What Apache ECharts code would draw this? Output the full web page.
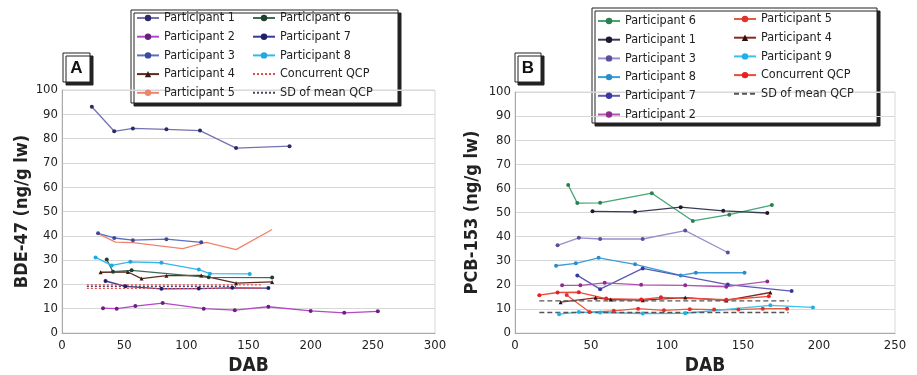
<!DOCTYPE html>
<html>
<head>
<meta charset="utf-8">
<script src="https://cdn.jsdelivr.net/npm/echarts@6/dist/echarts.min.js"></script>
<style>
  html, body { margin: 0; padding: 0; background: #fff; }
  #main { width: 917px; height: 375px; }
</style>
</head>
<body>
<div id="main"></div>
<script>
// panel A : BDE-47 (DAB, ng/g lw)
var a_p1 = [[24,93.1],[42,83.0],[57,84.2],[84,83.8],[111,83.3],[140,76.1],[183,76.9]];
var a_p2 = [[33,10.2],[44,10.0],[59,11.1],[81,12.3],[114,10.0],[139,9.4],[166,10.8],[200,9.1],[227,8.3],[254,8.9]];
var a_p3 = [[29,41],[42,39.1],[57,38.2],[84,38.6],[112,37.3]];
var a_p4 = [[31,25.0],[53,25.1],[64,22.4],[84,23.6],[112,23.7],[140,20.5],[169,21.0]];
var a_p5 = [[29,40.9],[43,37.4],[57,37.2],[97,34.7],[116,37.3],[140,34.3],[169,42.6]];
var a_p6 = [[36,30.2],[41,25.2],[56,25.8],[118,22.9],[169,22.8]];
var a_p7 = [[35,21.4],[51,19.2],[80,18.2],[110,18.3],[137,18.6],[166,18.5]];
var a_p8 = [[27,31.1],[40,27.8],[55,29.3],[80,28.9],[110,26.1],[119,24.4],[151,24.3]];
var a_qcp = [[20,18.4],[160,18.4]];
var a_qcp2 = [[20,19.8],[160,19.8]];
var a_sd = [[20,19.2],[140,19.2]];

// panel B : PCB-153
var b_p6 = [[35,61.4],[41,53.9],[56,54.0],[90,58.0],[117,46.5],[141,49.1],[169,53.1]];
var b_p1 = [[51,50.5],[79,50.3],[109,52.2],[137,50.7],[166,49.8]];
var b_p3 = [[28,36.4],[42,39.5],[56,39.0],[84,39.0],[112,42.5],[140,33.4]];
var b_p8 = [[27,27.9],[40,28.9],[55,31.2],[79,28.5],[109,23.9],[119,25.0],[151,25.0]];
var b_p7 = [[41,23.9],[56,18.2],[84,26.8],[140,20.1],[182,17.4]];
var b_p2 = [[31,19.8],[43,19.8],[59,20.8],[83,20.0],[112,19.8],[139,19.2],[166,21.4]];
var b_p5 = [[34,15.8],[49,8.7],[65,9.2],[81,10.1],[98,9.4],[115,9.9],[131,9.7],[147,9.7],[163,10.1],[179,10.1]];
var b_p4 = [[30,12.8],[53,14.6],[63,13.9],[84,13.6],[112,14.7],[139,13.5],[168,16.8]];
var b_p9 = [[29,7.8],[42,8.7],[56,8.5],[84,8.1],[112,8.2],[168,11.5],[196,10.6]];
var b_qcp = [[16,15.7],[28,16.8],[42,16.9],[60,14.3],[83,13.9],[96,14.8],[139,13.8],[167,15.2]];
var b_sd_hi = [[16,13.3],[180,13.3]];
var b_sd_lo = [[16,8.5],[180,8.5]];

var FONT = "'Liberation Sans Narrow','DejaVu Sans Condensed','Arial Narrow',sans-serif";

var myChart = echarts.init(document.getElementById('main'));

function line(name, data, color, mcolor, g, sym) {
    return {
        name: name, type: 'line', data: data,
        xAxisIndex: g, yAxisIndex: g,
        symbol: sym || 'circle', symbolSize: 4,
        lineStyle: { color: color, width: 1.3 },
        itemStyle: { color: mcolor || color },
        emphasis: { disabled: true },
        animation: false
    };
}
function flat(name, data, color, g, type) {
    return {
        name: name, type: 'line', data: data,
        xAxisIndex: g, yAxisIndex: g,
        symbol: 'none',
        lineStyle: { color: color, width: 1.3, type: type },
        itemStyle: { color: color },
        emphasis: { disabled: true },
        animation: false
    };
}

function xAx(g, max) {
    return {
        gridIndex: g, type: 'value', min: 0, max: max, interval: 50,
        name: 'DAB', nameLocation: 'middle', nameGap: 24,
        nameTextStyle: { fontFamily: FONT, fontWeight: 'bold', fontSize: 19, color: '#222' },
        axisLine: { lineStyle: { color: '#aaa' } },
        axisTick: { show: false },
        axisLabel: { fontFamily: FONT, fontSize: 13, color: '#222', margin: 6 },
        splitLine: { show: false }
    };
}
function yAx(g, title, gap) {
    return {
        gridIndex: g, type: 'value', min: 0, max: 100, interval: 10,
        name: title, nameLocation: 'middle', nameGap: gap, nameRotate: 90,
        nameTextStyle: { fontFamily: FONT, fontWeight: 'bold', fontSize: 18, color: '#222' },
        axisLine: { show: true, lineStyle: { color: '#aaa' } },
        axisTick: { show: false },
        axisLabel: { fontFamily: FONT, fontSize: 13, color: '#222', margin: 4 },
        splitLine: { lineStyle: { color: '#d8d8d8' } }
    };
}
function leg(names, left, top) {
    return {
        data: names, orient: 'vertical', left: left, top: top, padding: 0,
        itemWidth: 22, itemHeight: 8, itemGap: 4.7,
        textStyle: { fontFamily: FONT, fontSize: 12.5, color: '#222', lineHeight: 14 },
        selectedMode: false
    };
}
function noMark(name) {
    return { name: name, itemStyle: { opacity: 0 } };
}

myChart.setOption({
    backgroundColor: '#fff',
    grid: [
        { left: 62, right: 482, top: 90, bottom: 42, outerBoundsMode: 'none', show: true, borderColor: '#d8d8d8', backgroundColor: 'transparent' },
        { left: 515, right: 22, top: 92, bottom: 42, outerBoundsMode: 'none', show: true, borderColor: '#d8d8d8', backgroundColor: 'transparent' }
    ],
    xAxis: [xAx(0, 300), xAx(1, 250)],
    yAxis: [yAx(0, 'BDE-47 (ng/g lw)', 29), yAx(1, 'PCB-153 (ng/g lw)', 34)],
    graphic: [
        { type: 'rect', shape: { x: 131, y: 10, width: 267, height: 93 }, style: { fill: '#fff', stroke: '#222', lineWidth: 1, shadowColor: '#222', shadowOffsetX: 3, shadowOffsetY: 3 }, z: -1 },
        { type: 'rect', shape: { x: 592, y: 8, width: 285, height: 115 }, style: { fill: '#fff', stroke: '#222', lineWidth: 1, shadowColor: '#222', shadowOffsetX: 3, shadowOffsetY: 3 }, z: -1 },
        { type: 'rect', shape: { x: 63, y: 53, width: 27, height: 29 }, style: { fill: '#fff', stroke: '#222', lineWidth: 1, shadowColor: '#222', shadowOffsetX: 3, shadowOffsetY: 3 }, z: 5 },
        { type: 'text', x: 76.5, y: 68, style: { text: 'A', fontFamily: 'Liberation Sans, sans-serif', fontWeight: 'bold', fontSize: 17, fill: '#111', align: 'center', verticalAlign: 'middle' }, z: 6 },
        { type: 'rect', shape: { x: 515, y: 53, width: 26, height: 29 }, style: { fill: '#fff', stroke: '#222', lineWidth: 1, shadowColor: '#222', shadowOffsetX: 3, shadowOffsetY: 3 }, z: 5 },
        { type: 'text', x: 528, y: 68, style: { text: 'B', fontFamily: 'Liberation Sans, sans-serif', fontWeight: 'bold', fontSize: 17, fill: '#111', align: 'center', verticalAlign: 'middle' }, z: 6 }
    ],
    legend: [
        leg(['Participant 1', 'Participant 2', 'Participant 3', 'Participant 4', 'Participant 5'], 136, 11),
        leg(['Participant 6', 'Participant 7', 'Participant 8', noMark('Concurrent QCP'), noMark('SD of mean QCP')], 252, 11),
        leg(['Participant 6 ', 'Participant 1 ', 'Participant 3 ', 'Participant 8 ', 'Participant 7 ', 'Participant 2 '], 597, 14),
        leg(['Participant 5 ', 'Participant 4 ', 'Participant 9 ', 'Concurrent QCP ', noMark('SD of mean QCP ')], 733, 12)
    ],
    series: [
        line('Participant 1', a_p1, '#7572b4', '#2c2a66', 0),
        line('Participant 2', a_p2, '#b548c4', '#6a2080', 0),
        line('Participant 3', a_p3, '#5a70c4', '#3a4aa0', 0),
        line('Participant 4', a_p4, '#5a2c24', '#3a1a14', 0, 'triangle'),
        line('Participant 5', a_p5, '#f0846a', '#f0846a', 0, 'none'),
        line('Participant 6', a_p6, '#3d6b55', '#1f4030', 0),
        line('Participant 7', a_p7, '#3a3a9c', '#20206a', 0),
        line('Participant 8', a_p8, '#33b8ea', '#20a8e0', 0),
        flat('Concurrent QCP', a_qcp, '#e84a4a', 0, [2, 2]),
        flat('Concurrent QCP', a_qcp2, '#e84a4a', 0, [2, 2]),
        flat('SD of mean QCP', a_sd, '#444466', 0, [2, 2]),

        line('Participant 6 ', b_p6, '#45a574', '#2a8050', 1),
        line('Participant 1 ', b_p1, '#3a3a58', '#1a1a30', 1),
        line('Participant 3 ', b_p3, '#9690cc', '#5a4f9a', 1),
        line('Participant 8 ', b_p8, '#3a9ed8', '#2a8ccc', 1),
        line('Participant 7 ', b_p7, '#5c5ab4', '#3a38a0', 1),
        line('Participant 2 ', b_p2, '#b054b0', '#902c90', 1),
        line('Participant 5 ', b_p5, '#e85a40', '#e03030', 1),
        line('Participant 4 ', b_p4, '#8a2a22', '#2a1010', 1, 'triangle'),
        line('Participant 9 ', b_p9, '#3ec0ec', '#20b0e8', 1),
        line('Concurrent QCP ', b_qcp, '#ec4a3c', '#e82020', 1),
        flat('SD of mean QCP ', b_sd_hi, '#555', 1, [5, 3]),
        flat('SD of mean QCP ', b_sd_lo, '#555', 1, [5, 3])
    ]
});
</script>
</body>
</html>
